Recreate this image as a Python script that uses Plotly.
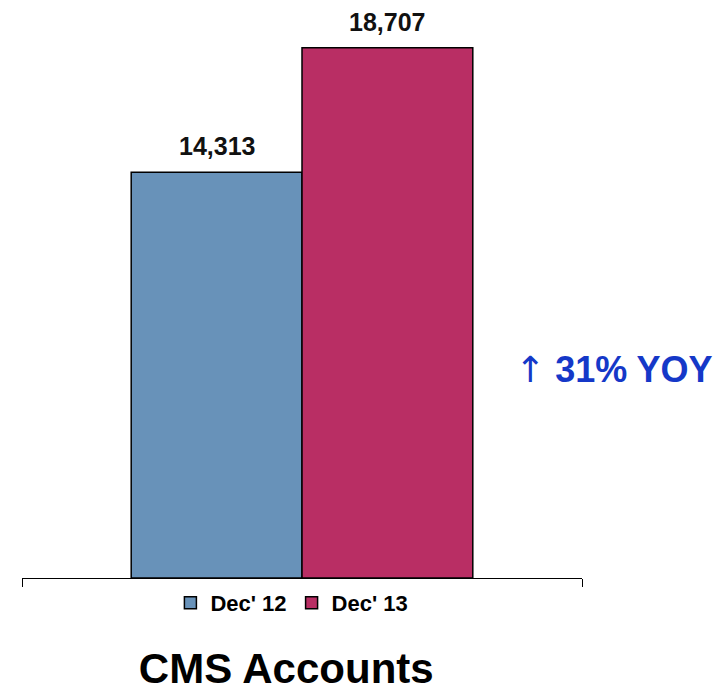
import plotly.graph_objects as go

# dados do gráfico
periodos = ["Dec' 12", "Dec' 13"]
contas = [14313, 18707]
cores = ['#6892B9', '#B92E64']
titulo = 'CMS Accounts'
variacao = '31% YOY'

BARGAP = 0.39
FONTE = 'Liberation Sans, Arial, sans-serif'

fig = go.Figure()

# uma barra por período, agrupadas lado a lado
for periodo, valor, cor in zip(periodos, contas, cores):
    fig.add_trace(go.Bar(x=[0], y=[valor], name='<b>' + periodo + '</b>',
                         marker=dict(color=cor, line=dict(color='black', width=1.5))))

# rótulos de valor acima das barras
largura = (1 - BARGAP) / len(periodos)
for i, valor in enumerate(contas):
    centro = -(1 - BARGAP) / 2 + largura * (i + 0.5)
    fig.add_annotation(x=centro, y=valor, text=f'<b>{valor:,}</b>', showarrow=False,
                       yanchor='bottom', yshift=10,
                       font=dict(family=FONTE, size=25, color='#111111'))

# seta de crescimento anual
fig.add_annotation(x=0.877, y=0.367, xref='paper', yref='paper', xanchor='left',
                   text="<span style='font-family:DejaVu Sans;font-weight:normal'>↑</span> <b>" + variacao + '</b>',
                   showarrow=False,
                   font=dict(family=FONTE, size=36, color='#1538C8'))

fig.update_layout(
    width=721, height=693,
    margin=dict(l=22, r=139, t=11, b=115),
    plot_bgcolor='white', paper_bgcolor='white',
    barmode='group', bargap=BARGAP, bargroupgap=0,
    showlegend=True,
    legend=dict(orientation='h', x=0.265, xanchor='left', y=-0.044, yanchor='middle',
                font=dict(family=FONTE, size=22, color='black'),
                itemwidth=30, tracegroupgap=0),
    title=dict(text='<b>' + titulo + '</b>', x=0.397, xanchor='center',
               y=1 - 668 / 693, yanchor='middle',
               font=dict(family=FONTE, size=42, color='black')),
    xaxis=dict(range=[-0.5, 0.5], showgrid=False, zeroline=False, showline=True,
               linecolor='black', linewidth=1, tickmode='array', tickvals=[-0.5, 0.5],
               ticks='outside', ticklen=8, tickcolor='black', showticklabels=False,
               fixedrange=True),
    yaxis=dict(range=[0, 20000], visible=False, showgrid=False, zeroline=False),
)

# tira a margem padrão da página para a figura começar no canto
fig.write_html("out.html", config={'displayModeBar': False},
               post_script="document.body.style.margin='0';")
